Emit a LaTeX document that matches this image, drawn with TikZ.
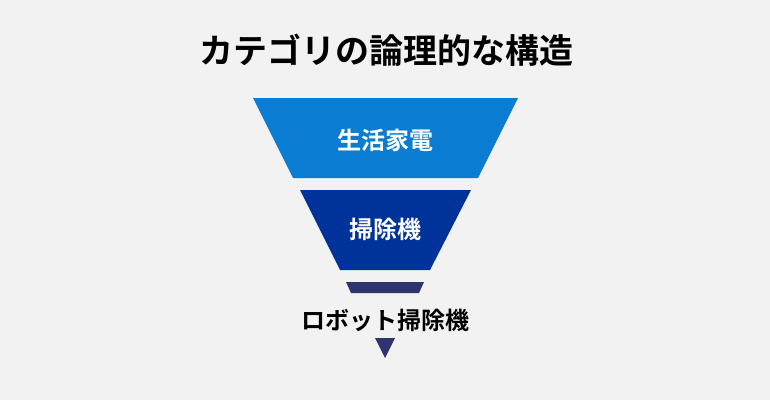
\documentclass[tikz,border=0pt]{standalone}
\usepackage{fontspec}
\newfontfamily\jpfont{Noto Sans CJK JP Bold}

\definecolor{bgGray}{HTML}{F2F2F2}
\definecolor{levelOne}{HTML}{0A7DD2}
\definecolor{levelTwo}{HTML}{003399}
\definecolor{levelThree}{HTML}{2F346E}

\begin{document}
\begin{tikzpicture}[x=1pt,y=-1pt,
    label/.style={text=white,font=\jpfont\fontsize{24}{27}\selectfont}]
    % Background
    \fill[bgGray] (0,0) rectangle (770,400);

    % Define coordinates for the funnel levels
    \coordinate (A1) at (253,98);
    \coordinate (B1) at (518,98);
    \coordinate (C1) at (478,178);
    \coordinate (D1) at (293,178);

    \coordinate (A2) at (300,190);
    \coordinate (B2) at (471,190);
    \coordinate (C2) at (430,270);
    \coordinate (D2) at (340,270);

    \coordinate (A3) at (346,282);
    \coordinate (B3) at (424,282);
    \coordinate (C3) at (419,293);
    \coordinate (D3) at (351,293);

    \coordinate (A4) at (375,338);
    \coordinate (B4) at (395,338);
    \coordinate (T) at (385,358);

    % Draw the funnel levels
    \fill[levelOne] (A1) -- (B1) -- (C1) -- (D1) -- cycle;
    \fill[levelTwo] (A2) -- (B2) -- (C2) -- (D2) -- cycle;
    \fill[levelThree] (A3) -- (B3) -- (C3) -- (D3) -- cycle;
    \fill[levelThree] (A4) -- (B4) -- (T) -- cycle;

    % Title
    \node[font=\jpfont\fontsize{34}{38}\selectfont] (title) at (386,50) {カテゴリの論理的な構造};

    % Labels for the levels
    \node[label] (home) at (385,140) {生活家電};
    \node[label] (cleaner) at (385,229) {掃除機};
    \node[label,text=black] (robot) at (385,320) {ロボット掃除機};
\end{tikzpicture}
\end{document}
